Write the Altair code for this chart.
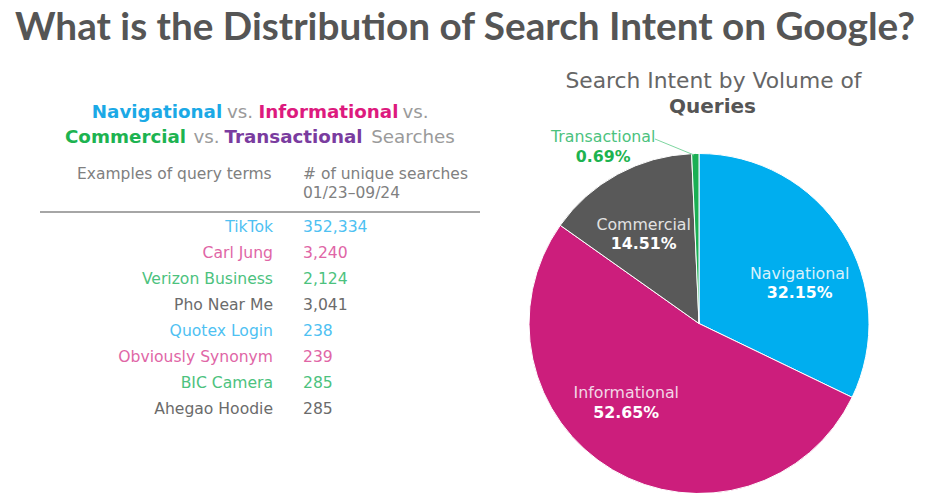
import altair as alt
import pandas as pd

# ---------------- data ----------------
intents = ["Navigational", "Informational", "Commercial", "Transactional"]
shares = [32.15, 52.65, 14.51, 0.69]
share_labels = ["32.15%", "52.65%", "14.51%", "0.69%"]

query_terms = ["TikTok", "Carl Jung", "Verizon Business", "Pho Near Me",
               "Quotex Login", "Obviously Synonym", "BIC Camera", "Ahegao Hoodie"]
query_counts = ["352,334", "3,240", "2,124", "3,041", "238", "239", "285", "285"]
query_groups = ["Navigational", "Informational", "Commercial", "Transactional",
                "Navigational", "Informational", "Commercial", "Transactional"]

# ---------------- styles ----------------
pie_colors = ["#00AEEF", "#CC1E7C", "#595959", "#1AAF54"]
table_colors = ["#4EC1F2", "#E066A6", "#4CC27E", "#6B6B6B"]
FONT = "DejaVu Sans"

pie_df = pd.DataFrame({"intent": intents, "share": shares, "label": share_labels,
                       "idx": list(range(len(intents)))})
table_df = pd.DataFrame({"term": query_terms, "count": query_counts,
                         "group": query_groups, "row": list(range(len(query_terms)))})

CX, CY, R = 691, 315.5, 170


def txt(text, x, y, size, color, weight="normal", align="left", font=FONT,
        baseline="alphabetic"):
    return alt.Chart(pd.DataFrame({"t": [text]})).mark_text(
        align=align, baseline=baseline, font=font, fontSize=size,
        fontWeight=weight, color=color
    ).encode(x=alt.value(x), y=alt.value(y), text="t:N")


layers = []
# main title
layers.append(txt("What is the Distribution of Search Intent on Google?", 7, 1, 38.7,
                  "#555555", "bold", font="Lato", baseline="top"))

# coloured header (two lines)
hdr = [
    ("Navigational", 149, 110, "#1BA9E6", "bold"),
    ("vs.", 232, 110, "#9A9A9A", "normal"),
    ("Informational", 320.5, 110, "#DD1A7E", "bold"),
    ("vs.", 407.5, 110, "#9A9A9A", "normal"),
    ("Commercial", 117.5, 135, "#1DB350", "bold"),
    ("vs.", 198.5, 135, "#9A9A9A", "normal"),
    ("Transactional", 285.5, 135, "#7A3C9F", "bold"),
    ("Searches", 405, 135, "#9A9A9A", "normal"),
]
for t, x, y, c, w in hdr:
    layers.append(txt(t, x, y, 18.3, c, w, align="center"))

# column headers
layers.append(txt("Examples of query terms", 69, 171, 15.5, "#808080"))
layers.append(txt("# of unique searches", 295, 171, 15.5, "#808080"))
layers.append(txt("01/23–09/24", 295, 190, 15.5, "#808080"))

# header rule
layers.append(alt.Chart(pd.DataFrame({"a": [0]})).mark_rule(
    color="#A6A6A6", strokeWidth=2).encode(
    x=alt.value(32), x2=alt.value(472), y=alt.value(204)))

# table rows
yscale = alt.Scale(type="point", range=[219, 401], padding=0)
cscale = alt.Scale(domain=intents, range=table_colors)
base_t = alt.Chart(table_df)
layers.append(base_t.mark_text(align="right", baseline="middle", font=FONT, fontSize=15.6).encode(
    x=alt.value(265), y=alt.Y("row:O", scale=yscale, axis=None), text="term:N",
    color=alt.Color("group:N", scale=cscale, legend=None)))
layers.append(base_t.mark_text(align="left", baseline="middle", font=FONT, fontSize=15.6).encode(
    x=alt.value(295), y=alt.Y("row:O", scale=yscale, axis=None), text="count:N",
    color=alt.Color("group:N", scale=cscale, legend=None)))

# pie title
layers.append(txt("Search Intent by Volume of", 705.5, 80, 21.8, "#666666", align="center"))
layers.append(txt("Queries", 704.5, 105, 20, "#555555", "bold", align="center"))

# pie
theta_scale = alt.Scale(domain=[0, 100])
pie_color = alt.Scale(domain=intents, range=pie_colors)
layers.append(alt.Chart(pie_df).mark_arc(outerRadius=R, stroke="white", strokeWidth=1).encode(
    theta=alt.Theta("share:Q", stack=True, scale=theta_scale),
    color=alt.Color("intent2:N", scale=pie_color, legend=None),
    order=alt.Order("idx:Q"),
    x=alt.value(CX), y=alt.value(CY)
).transform_calculate(intent2="datum.intent"))

# leader line for Transactional
layers.append(alt.Chart(pd.DataFrame({"a": [0]})).mark_rule(
    color="#7ED6A0", strokeWidth=1).encode(
    x=alt.value(647), y=alt.value(131), x2=alt.value(686), y2=alt.value(147)))

lab_base = alt.Chart(pie_df).transform_window(
    cum="sum(share)", sort=[alt.SortField("idx")], frame=[None, 0]
).transform_calculate(mid="datum.cum - datum.share / 2")

label_specs = [
    # intent, radius, dx, dy_name, dy_pct, name colour, pct colour
    ("Navigational", 100, 16, 3.5, 22.5, "#D8F1FB", "#FFFFFF"),
    ("Informational", 100, -22, -16.7, 3.3, "#F3D6E6", "#FFFFFF"),
    ("Commercial", 100, -7.5, -10.7, 8.3, "#E2E2E2", "#FFFFFF"),
    ("Transactional", 175, -92, -11.5, 8.5, "#4CC27E", "#1DB350"),
]
for name, rad, dx, dyn, dyp, cn, cp in label_specs:
    f = lab_base.transform_filter(alt.datum.intent == name)
    layers.append(f.mark_text(radius=rad, dx=dx, dy=dyn, font=FONT, fontSize=15.8,
                              color=cn, baseline="middle", align="center").encode(
        theta=alt.Theta("mid:Q", scale=theta_scale), text="intent:N",
        x=alt.value(CX), y=alt.value(CY)))
    layers.append(f.mark_text(radius=rad, dx=dx, dy=dyp, font=FONT, fontSize=15.8,
                              fontWeight="bold", color=cp, baseline="middle",
                              align="center").encode(
        theta=alt.Theta("mid:Q", scale=theta_scale), text="label:N",
        x=alt.value(CX), y=alt.value(CY)))

chart = alt.layer(*layers).resolve_scale(color="independent").properties(
    width=913, height=485, autosize="none", padding=0,
    background="white"
).configure_view(stroke=None)

chart.save("out.html", embed_options={"renderer": "svg", "actions": False})
